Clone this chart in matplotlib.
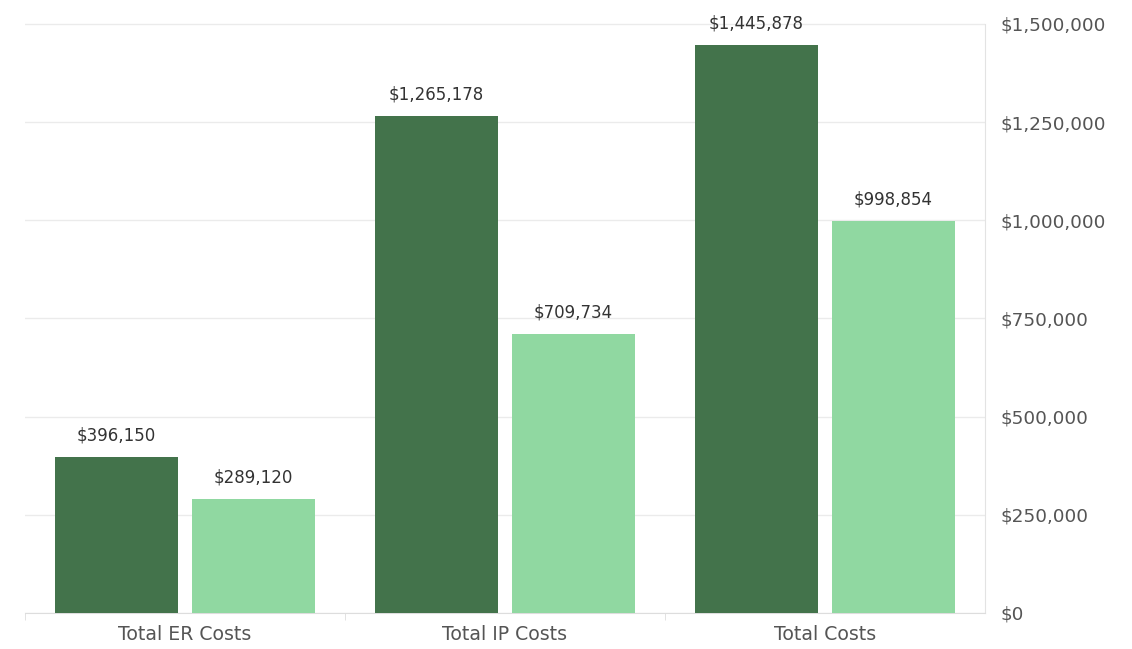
import numpy as np
import matplotlib.pyplot as plt
from matplotlib.ticker import FuncFormatter, FixedLocator

plt.rcParams['font.family'] = ['DejaVu Sans']

categories = ['Total ER Costs', 'Total IP Costs', 'Total Costs']
series_a = [396150, 1265178, 1445878]
series_b = [289120, 709734, 998854]
yticks = [0, 250000, 500000, 750000, 1000000, 1250000, 1500000]

dark = '#43734B'
light = '#90D8A1'

fig = plt.figure(figsize=(11.32, 6.49), dpi=100)
ax = fig.add_axes([0.022, 0.0555, 0.848, 0.938])

x = np.arange(len(categories))
w = 0.384
off = 0.214
bars_a = ax.bar(x - off, series_a, width=w, color=dark, zorder=3)
bars_b = ax.bar(x + off, series_b, width=w, color=light, zorder=3)

for bars, vals in [(bars_a, series_a), (bars_b, series_b)]:
    for b, v in zip(bars, vals):
        ax.annotate('${:,.0f}'.format(v), (b.get_x() + b.get_width() / 2, v),
                    xytext=(0, 9), textcoords='offset points',
                    ha='center', va='bottom', fontsize=12, color='#333333')

ax.set_xlim(-0.5, 2.5)
ax.set_ylim(0, 1550000)

ax.yaxis.tick_right()
ax.yaxis.set_major_locator(FixedLocator(yticks))
ax.yaxis.set_major_formatter(FuncFormatter(lambda v, p: '${:,.0f}'.format(v)))
ax.tick_params(axis='y', length=0, pad=11, labelsize=13.3, labelcolor='#555555')
ax.grid(axis='y', color='#ebebeb', linewidth=1, zorder=0)

ax.set_xticks(x)
ax.set_xticklabels(categories)
ax.tick_params(axis='x', length=0, pad=9, labelsize=13.6, labelcolor='#555555')
ax.set_xticks([-0.5, 0.5, 1.5], minor=True)
ax.tick_params(axis='x', which='minor', length=5, color='#dddddd')

for s in ['top', 'left']:
    ax.spines[s].set_visible(False)
ax.spines['right'].set_color('#e3e3e3')
ax.spines['right'].set_bounds(0, 1500000)
ax.spines['bottom'].set_color('#dddddd')

fig.savefig('out.png', dpi=100, facecolor='white')
